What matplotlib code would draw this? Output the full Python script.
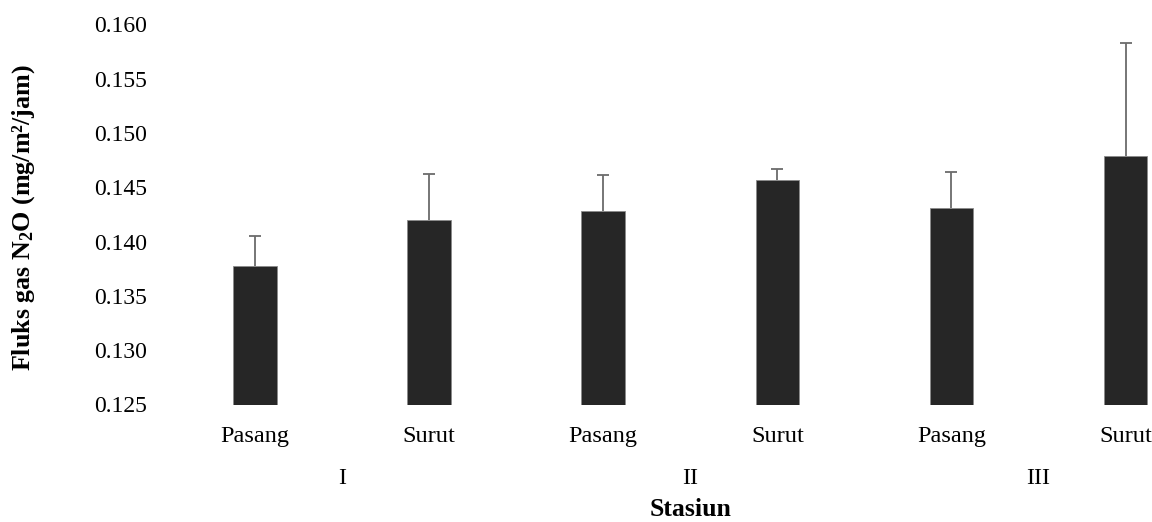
import matplotlib
matplotlib.use("Agg")
import matplotlib.pyplot as plt
import matplotlib.transforms as mtransforms
import numpy as np

# Data
stations = ["I", "II", "III"]
tides = ["Pasang", "Surut", "Pasang", "Surut", "Pasang", "Surut"]
flux = [0.1378, 0.1420, 0.1428, 0.1457, 0.1431, 0.1479]
err_up = [0.0027, 0.0042, 0.0033, 0.0010, 0.0033, 0.0104]
yticks = [0.125, 0.130, 0.135, 0.140, 0.145, 0.150, 0.155, 0.160]

plt.rcParams['font.family'] = ['Liberation Serif', 'DejaVu Serif']
plt.rcParams['mathtext.fontset'] = 'custom'
plt.rcParams['mathtext.rm'] = 'Liberation Serif:bold'
plt.rcParams['mathtext.default'] = 'rm'

W, H = 1152, 522
fig = plt.figure(figsize=(W / 100, H / 100), dpi=100)
ax_left, ax_right = 168 / W, 1.0
ax_bottom, ax_top = 1 - 404.5 / H, 1 - 24.5 / H
ax = fig.add_axes([ax_left, ax_bottom, ax_right - ax_left, ax_top - ax_bottom])

x = np.arange(len(flux))
ax.bar(x, flux, width=0.25, color='#262626', edgecolor='#8a8a8a', linewidth=0.6, zorder=2)
eb = ax.errorbar(x, flux, yerr=[np.zeros(len(err_up)), err_up], fmt='none',
                 ecolor='#6b6b6b', elinewidth=1.3, capsize=4.5, capthick=1.3, zorder=3)
caplines = eb.lines[1]
if len(caplines) == 2:
    caplines[0].set_visible(False)

ax.set_ylim(0.125, 0.160)
ax.set_xlim(-0.5, 5 + (W - 1125.5) / 174.1)
ax.set_yticks(yticks)
ax.set_yticklabels([f"{v:.3f}" for v in yticks])
ax.tick_params(axis='y', length=0, pad=15.3, labelsize=17)
ax.set_xticks([])
for s in ax.spines.values():
    s.set_visible(False)

trans = mtransforms.blended_transform_factory(ax.transData, fig.transFigure)
for xi, t in zip(x, tides):
    ax.text(xi, 1 - 441.7 / H, t, transform=trans, ha='center', va='baseline', fontsize=17.5)
for gi, s in enumerate(stations):
    ax.text(2 * gi + 0.5, 1 - 484.3 / H, s, transform=trans, ha='center', va='baseline',
            fontsize=17.5)
ax.text(2.5, 1 - 516.5 / H, "Stasiun", transform=trans, ha='center', va='baseline',
        fontsize=18.5, fontweight='bold')

fig.text(24 / W, 1 - 218 / H, "Fluks gas N$_{2}$O (mg/m\u00b2/jam)", rotation=90,
         ha='center', va='center', fontsize=18.7, fontweight='bold')

fig.savefig("out.png", dpi=100)
